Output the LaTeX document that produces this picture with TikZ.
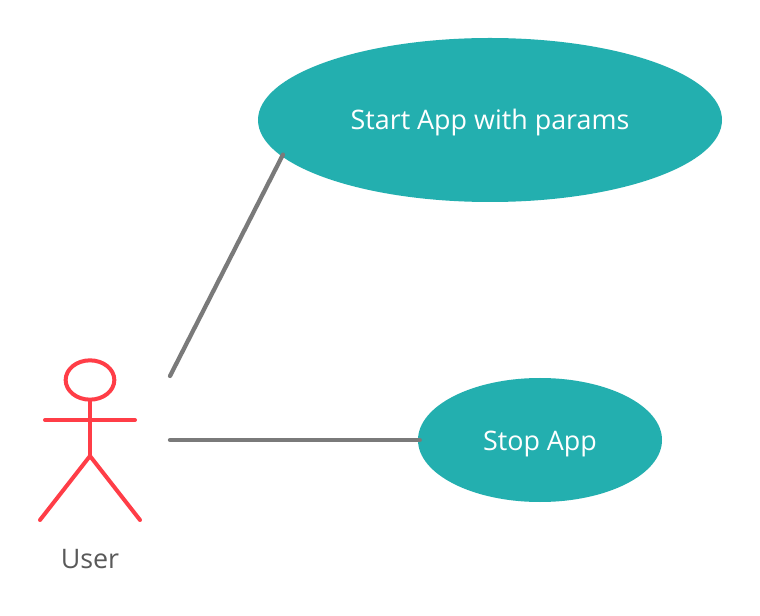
\documentclass[tikz,border=0pt]{standalone}
\usepackage{fontspec}
\setmainfont{Open Sans}
\usetikzlibrary{shapes.geometric}
\definecolor{teal1}{HTML}{23AFAF}
\definecolor{actor}{HTML}{FF3D47}
\definecolor{conn}{HTML}{7A7A7A}
\definecolor{lbl}{HTML}{595959}
\tikzset{x=0.75pt,y=-0.75pt,
 usecase/.style={ellipse,fill=teal1,text=white,inner sep=0pt,text height=20pt,text depth=5pt,font=\fontsize{20.15pt}{24pt}\selectfont},
 conline/.style={draw=conn,line width=3.2pt,line cap=round},
 actorline/.style={draw=actor,line width=3pt,line cap=round}}
\begin{document}
\begin{tikzpicture}
\useasboundingbox (0,0) rectangle (760,616);
\fill[white] (0,0) rectangle (760,616);
\node[usecase,minimum width=348pt,minimum height=123pt] (start) at (490,120) {Start App with params};
\node[usecase,minimum width=183pt,minimum height=93pt] (stop) at (540,440) {Stop App};
\coordinate (a1) at (170,376);
\coordinate (a2) at (170,440);
\draw[conline] (a1) -- ([shift={(5,1)}]start.189);
\draw[conline] (a2) -- ([xshift=1.5pt]stop.west);
\node[ellipse,draw=actor,line width=3pt,minimum width=36.5pt,minimum height=29.5pt,inner sep=0pt] (head) at (90,380) {};
\coordinate (hip) at (90,456);
\coordinate (armL) at (45,420);
\coordinate (armR) at (135,420);
\coordinate (footL) at (40,520);
\coordinate (footR) at (140,520);
\draw[actorline] (head.south) -- (hip);
\draw[actorline] (armL) -- (armR);
\draw[actorline] (footL) -- (hip) -- (footR);
\node[text=lbl,font=\fontsize{20.15pt}{24pt}\selectfont] (user) at (90,559) {User};
\end{tikzpicture}
\end{document}
